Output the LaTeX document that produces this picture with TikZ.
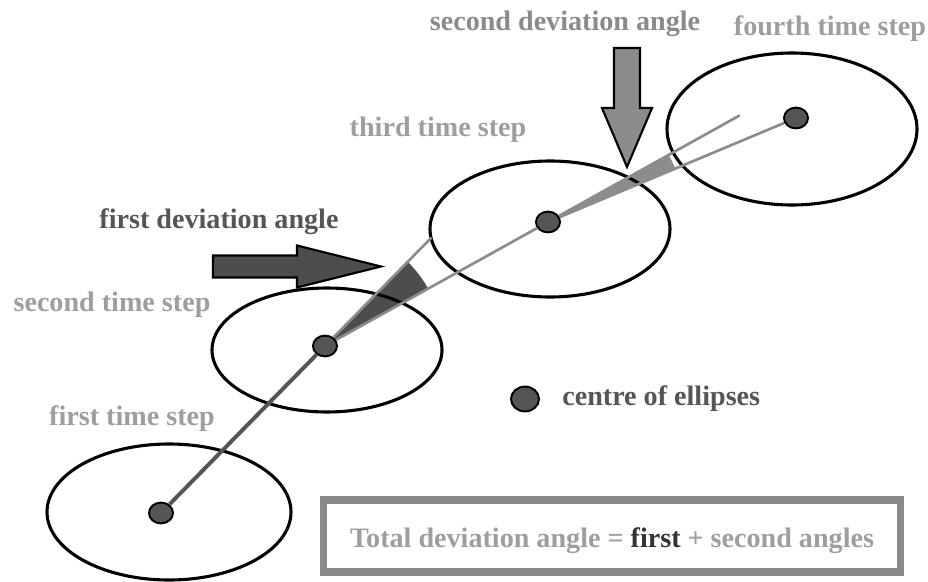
\documentclass[tikz,border=0pt]{standalone}
\usepackage{fontspec}
\setmainfont{Liberation Serif}
\usetikzlibrary{positioning, shapes.geometric, calc}
\definecolor{dvstep}{HTML}{9E9E9E}
\definecolor{dvangle}{HTML}{8A8A8A}
\definecolor{dvdark}{HTML}{555555}
\definecolor{dvwedge}{HTML}{4D4D4D}
\definecolor{dvfirst}{HTML}{333333}
\definecolor{dvline}{HTML}{8C8C8C}

\begin{document}
\begin{tikzpicture}[x=0.025cm, y=0.025cm, font=\fontsize{20}{24}\selectfont\bfseries,
    ring/.style={draw=black, line width=2.2pt},
    cdot/.style={ellipse, draw=black, line width=1.4pt, fill=dvdark,
      minimum width=0.6cm, minimum height=0.52cm, inner sep=0pt},
    lab/.style={inner sep=0pt, anchor=base},
    pathdark/.style={dvdark, line width=2.8pt},
    pathlight/.style={dvline, line width=1.9pt},
    blockarrow/.style={draw=black, line width=1.5pt, line join=miter}]
    \useasboundingbox (0,0) rectangle (928,581);
    \coordinate (c1) at (161,68);
    \coordinate (c2) at (325,235);
    \coordinate (c3) at (548,359);
    \coordinate (c4) at (796,463);
    \coordinate (ext1) at ($(c1)!1.65!(c2)$);
    \coordinate (ext2) at ($(c2)!1.86!(c3)$);
    \fill[dvwedge] let \p1=($(ext1)-(c2)$), \p2=($(c3)-(c2)$),
      \n1={atan2(\y1,\x1)}, \n2={atan2(\y2,\x2)} in
      (c2) -- ++(\n1:118) arc[start angle=\n1, end angle=\n2, radius=118] -- cycle;
    \fill[dvline] let \p1=($(ext2)-(c3)$), \p2=($(c4)-(c3)$),
      \n1={atan2(\y1,\x1)}, \n2={atan2(\y2,\x2)} in
      (c3) -- ++(\n1:138) arc[start angle=\n1, end angle=\n2, radius=138] -- cycle;
    \draw[ring] (169,69) ellipse [x radius=122, y radius=68];
    \draw[ring] (327,231) ellipse [x radius=115, y radius=62];
    \draw[ring] (550,352) ellipse [x radius=120, y radius=68];
    \draw[ring] (792,452) ellipse [x radius=125, y radius=76];
    \node[cdot] (d1) at (c1) {};
    \node[cdot] (d2) at (c2) {};
    \node[cdot] (d3) at (c3) {};
    \node[cdot] (d4) at (c4) {};
    \draw[pathdark] (d1) -- (d2);
    \draw[pathlight] (d2) -- (ext1);
    \draw[pathlight] (d2) -- (d3);
    \draw[pathlight] (d3) -- (ext2);
    \draw[pathlight] (d3) -- (d4);
    \draw[blockarrow, fill=dvwedge] (213,303.5) -- (297,303.5) -- (297,293.5)
      -- (381,314.5) -- (297,335.5) -- (297,325.5) -- (213,325.5) -- cycle;
    \draw[blockarrow, fill=dvline] (614,533) -- (640,533) -- (640,473)
      -- (652,473) -- (627,414) -- (602,473) -- (614,473) -- cycle;
    \node[lab, text=dvangle] (second-angle) at (565,550) {second deviation angle};
    \node[lab, text=dvstep] (step4) at (830,545) {fourth time step};
    \node[lab, text=dvstep] (step3) at (438,444) {third time step};
    \node[lab, text=dvdark] (first-angle) at (219,353) {first deviation angle};
    \node[lab, text=dvstep] (step2) at (112,270) {second time step};
    \node[lab, text=dvstep] (step1) at (132,156) {first time step};
    \node[cdot, minimum width=0.7cm, minimum height=0.62cm] (legdot) at (525,182) {};
    \node[right=0.55cm of legdot, inner sep=0pt, text=dvdark] (legend) {centre of ellipses};
    \node[draw=dvangle, line width=5pt, minimum width=14.4cm, minimum height=1.8cm,
      inner sep=0pt, text height=17pt, text depth=0pt, text=dvstep] (total) at (612,45)
      {Total deviation angle = \textcolor{dvfirst}{first} + second angles};
  \end{tikzpicture}
\end{document}
